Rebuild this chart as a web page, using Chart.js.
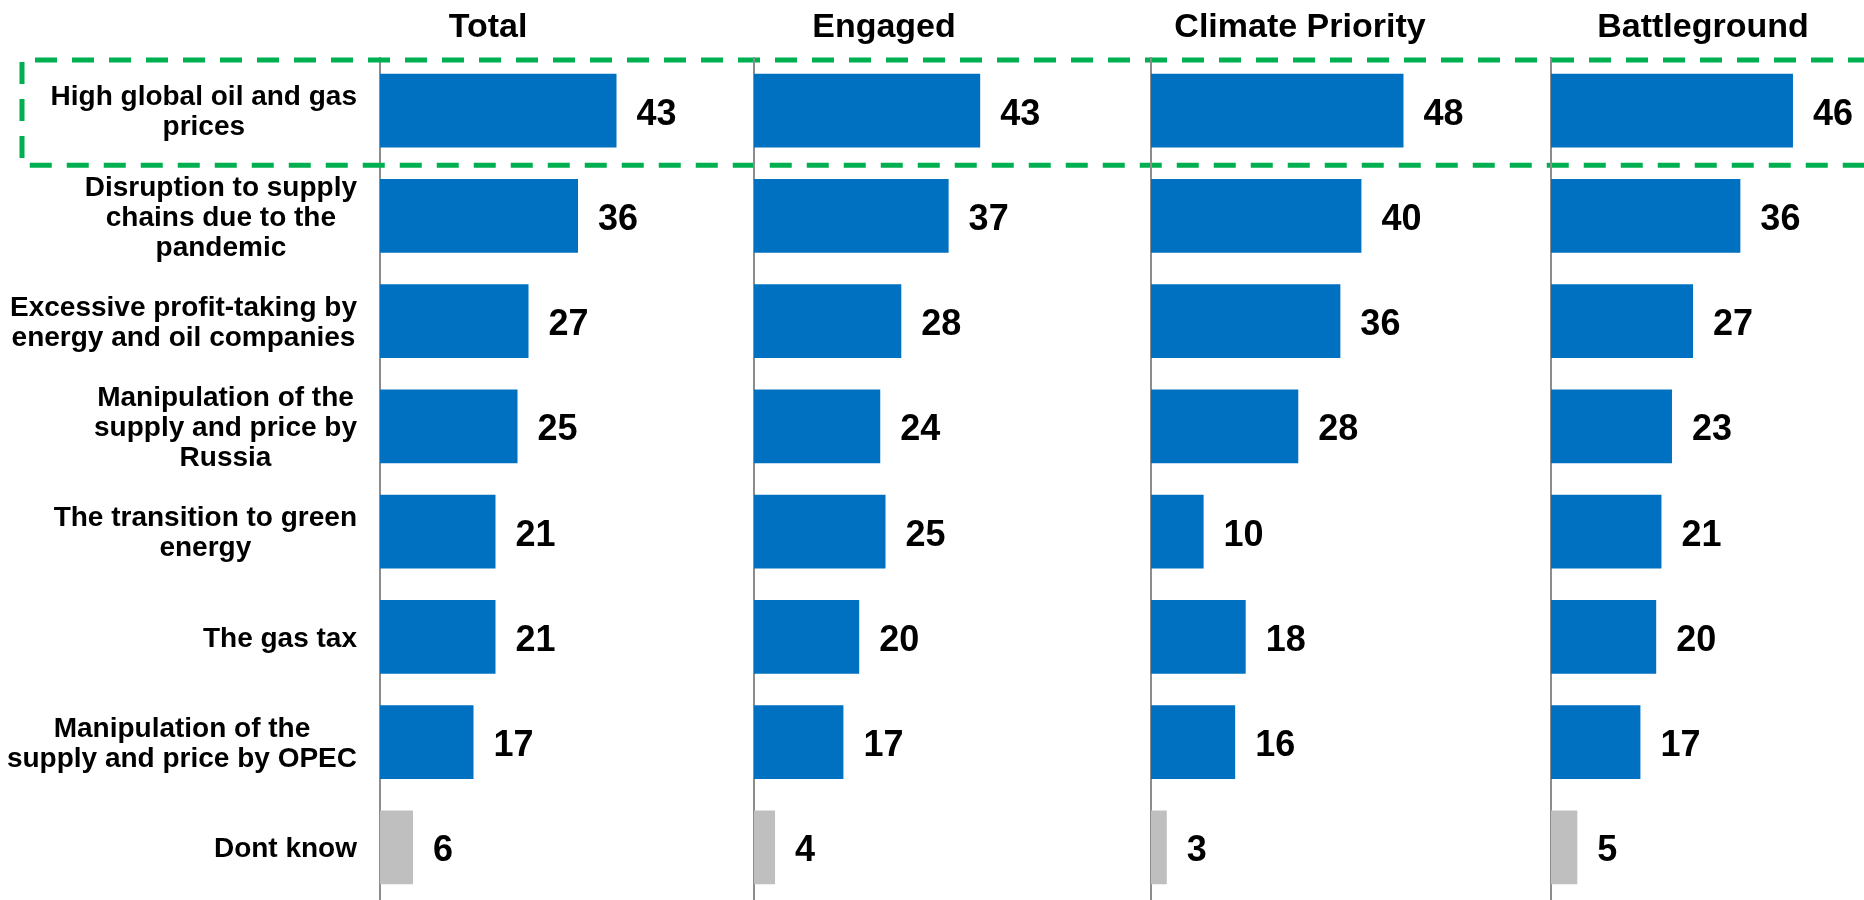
<!DOCTYPE html>
<html>
<head>
<meta charset="utf-8">
<script src="https://cdn.jsdelivr.net/npm/chart.js@4"></script>
<style>
  body { margin: 0; background: #fff; }
  #wrap { position: relative; width: 1864px; height: 900px; }
  #wrap canvas { position: absolute; left: 0; top: 0; }
</style>
</head>
<body>
<div id="wrap">
  <canvas id="c0" width="1864" height="900"></canvas>
  <canvas id="c1" width="1864" height="900"></canvas>
  <canvas id="c2" width="1864" height="900"></canvas>
  <canvas id="c3" width="1864" height="900"></canvas>
</div>
<script>
// Data
var categories = [
    ["High global oil and gas", "prices"],
    ["Disruption to supply", "chains due to the", "pandemic"],
    ["Excessive profit-taking by", "energy and oil companies"],
    ["Manipulation of the", "supply and price by", "Russia"],
    ["The transition to green", "energy"],
    ["The gas tax"],
    ["Manipulation of the", "supply and price by OPEC"],
    ["Dont know"]
];
var groups = ["Total", "Engaged", "Climate Priority", "Battleground"];
var totalValues = [43, 36, 27, 25, 21, 21, 17, 6];
var engagedValues = [43, 37, 28, 24, 25, 20, 17, 4];
var climateValues = [48, 40, 36, 28, 10, 18, 16, 3];
var battlegroundValues = [46, 36, 27, 23, 21, 20, 17, 5];
var seriesValues = [totalValues, engagedValues, climateValues, battlegroundValues];

// Layout of the four panels (pixels)
var axisLeft = [380, 754, 1151, 1551];
var areaWidth = [275, 263, 263, 263];
var titleCenter = [488, 884, 1300, 1703];
var xMax = 50;

var FONT = 'Arial, "Liberation Sans", sans-serif';
var BLUE = '#0070C0';
var GREY = '#BFBFBF';

// value labels to the right of each bar
var barLabels = {
    id: 'barLabels',
    afterDatasetsDraw: function(chart) {
        var ctx = chart.ctx;
        var meta = chart.getDatasetMeta(0);
        var data = chart.data.datasets[0].data;
        ctx.save();
        ctx.font = 'bold 36px ' + FONT;
        ctx.fillStyle = '#000';
        ctx.textAlign = 'left';
        ctx.textBaseline = 'alphabetic';
        meta.data.forEach(function(bar, i) {
            ctx.fillText(data[i], bar.x + 20, bar.y + 14);
        });
        ctx.restore();
    }
};

// panel heading
var panelTitle = {
    id: 'panelTitle',
    afterDraw: function(chart, args, opts) {
        var ctx = chart.ctx;
        ctx.save();
        ctx.font = 'bold 34px ' + FONT;
        ctx.fillStyle = '#000';
        ctx.textAlign = 'center';
        ctx.textBaseline = 'alphabetic';
        ctx.fillText(opts.text, opts.x, 37);
        ctx.restore();
    }
};

// category labels + highlight box, only on the first panel
var categoryLabels = {
    id: 'categoryLabels',
    afterDraw: function(chart) {
        var ctx = chart.ctx;
        var y = chart.scales.y;
        var right = chart.chartArea.left - 23;
        var lineH = 30;
        ctx.save();
        ctx.font = 'bold 28px ' + FONT;
        ctx.fillStyle = '#000';
        ctx.textAlign = 'center';
        ctx.textBaseline = 'middle';
        categories.forEach(function(lines, i) {
            var w = 0;
            lines.forEach(function(l) { w = Math.max(w, ctx.measureText(l).width); });
            var cx = right - w / 2;
            var cy = y.getPixelForValue(i) + 2;
            var y0 = cy - (lines.length - 1) * lineH / 2;
            lines.forEach(function(l, k) {
                ctx.fillText(l, cx, y0 + k * lineH);
            });
        });

        // dashed box around the first row (open on the right, runs off the page)
        var band = y.getPixelForValue(1) - y.getPixelForValue(0);
        var top = y.getPixelForValue(0) - band / 2 + 2;
        var bottom = top + band;
        ctx.strokeStyle = '#00B050';
        ctx.lineWidth = 5;
        ctx.setLineDash([22, 15]);
        ctx.beginPath();
        ctx.moveTo(1870, top);
        ctx.lineTo(22, top);
        ctx.lineTo(22, bottom);
        ctx.lineTo(1870, bottom);
        ctx.stroke();
        ctx.restore();
    }
};

function makeChart(idx) {
    var plugins = [barLabels, panelTitle];
    if (idx === 0) plugins.push(categoryLabels);
    var last = categories.length - 1;
    return new Chart(document.getElementById('c' + idx), {
        type: 'bar',
        data: {
            labels: categories,
            datasets: [{
                data: seriesValues[idx],
                backgroundColor: function(c) { return c.dataIndex === last ? GREY : BLUE; },
                borderWidth: 0,
                categoryPercentage: 1,
                barPercentage: 0.7
            }]
        },
        options: {
            indexAxis: 'y',
            responsive: false,
            animation: false,
            events: [],
            layout: {
                padding: {
                    left: axisLeft[idx],
                    right: 1864 - axisLeft[idx] - areaWidth[idx],
                    top: 58,
                    bottom: 0
                }
            },
            scales: {
                x: { display: false, min: 0, max: xMax },
                y: {
                    display: true,
                    ticks: { display: false },
                    grid: { display: false, drawTicks: false },
                    border: { display: true, color: '#8C8C8C', width: 2 }
                }
            },
            plugins: {
                legend: { display: false },
                tooltip: { enabled: false },
                panelTitle: { text: groups[idx], x: titleCenter[idx] }
            }
        },
        plugins: plugins
    });
}

for (var i = 0; i < 4; i++) {
    makeChart(i);
}
</script>
</body>
</html>
